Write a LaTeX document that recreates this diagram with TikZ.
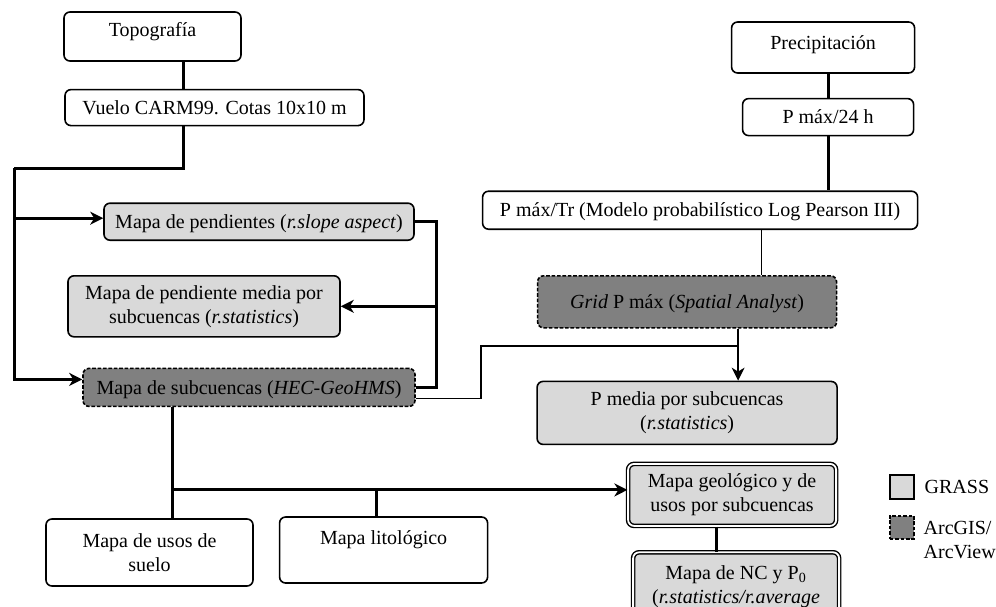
\documentclass[tikz,border=0pt]{standalone}
\usepackage{fontspec}
\setmainfont{Liberation Serif}
\usetikzlibrary{positioning,arrows.meta}
\tikzset{
    box/.style = {
        draw,
        rounded corners=3pt,
        line width=0.8pt,
        align=center,
        inner sep=2pt,
        },
    one line/.style = {
        text height=6.6pt,
        text depth=0pt,
        },
    grass/.style = {
        fill = gray!30,
        },
    arcgis/.style = {
        fill = gray,
        dash pattern=on 1.8pt off 0.9pt,
        },
    joined/.style = {
        fill = gray!30,
        double,
        double distance=0.9pt,
        line width=0.7pt,
        },
    link/.style = {
        line width=1.5pt,
        },
    thin link/.style = {
        line width=0.65pt,
        },
    legend/.style = {
        draw,
        minimum width=12pt,
        minimum height=12pt,
        inner sep=0pt,
        line width=0.9pt,
        },
    >={Stealth[length=6.5pt,width=6.5pt,inset=2pt]},
}

\begin{document}
\begin{tikzpicture}
    \useasboundingbox (0,0) rectangle (498pt,-303pt);

    \node[box, one line, text depth=6.5pt, minimum width=88.5pt, minimum height=24.5pt] (topo) at (76.25pt,-18.25pt) {Topografía};
    \node[box, one line, minimum width=149.5pt, minimum height=18pt, below=13.5pt of topo, xshift=31pt] (vuelo) {Vuelo CARM99. Cotas 10x10 m};
    \node[box, grass, one line, minimum width=155pt, minimum height=18.5pt, below=38pt of vuelo, xshift=22.25pt] (pend) {Mapa de pendientes (\textit{r.slope aspect})};
    \node[box, grass, minimum width=136pt, minimum height=30.5pt, below=17pt of pend, xshift=-27.5pt] (media) {Mapa de pendiente media por\\subcuencas (\textit{r.statistics})};
    \node[box, arcgis, one line, minimum width=166pt, minimum height=19pt, below=15pt of media, xshift=22.5pt] (subc) {Mapa de subcuencas (\textit{HEC-GeoHMS})};
    \node[box, minimum width=103.5pt, minimum height=33.5pt, below=55.5pt of subc, xshift=-49.75pt] (usos) {Mapa de usos de\\suelo};
    \node[box, one line, text depth=12pt, minimum width=104pt, minimum height=33pt, right=12.5pt of usos, yshift=1.25pt] (lito) {Mapa litológico};

    \node[box, one line, text depth=4.5pt, minimum width=91.5pt, minimum height=25.5pt, right=244.5pt of topo, yshift=-5.5pt] (precip) {Precipitación};
    \node[box, one line, minimum width=85.5pt, minimum height=18.5pt, below=12pt of precip, xshift=2.5pt] (pmax24) {P máx/24 h};
    \node[box, one line, minimum width=217.5pt, minimum height=19pt, below=27pt of pmax24, xshift=-64pt] (pmaxtr) {P máx/Tr (Modelo probabilístico Log Pearson III)};
    \node[box, arcgis, one line, minimum width=149.5pt, minimum height=26pt, below=22.5pt of pmaxtr, xshift=-6.5pt] (grid) {\textit{Grid} P máx (\textit{Spatial Analyst})};
    \node[box, grass, minimum width=150pt, minimum height=31.5pt, below=26pt of grid] (pmedia) {P media por subcuencas\\(\textit{r.statistics})};
    \node[box, joined, minimum width=104pt, minimum height=31pt, below=9pt of pmedia, xshift=22.5pt] (geol) {Mapa geológico y de\\usos por subcuencas};
    \node[box, joined, minimum width=103pt, minimum height=34.5pt, below=12.5pt of geol, xshift=2pt] (nc) {Mapa de NC y P\textsubscript{0}\\(\textit{r.statistics/r.average}};

    \node[legend, grass, right=26pt of geol, yshift=4pt] (grassbox) {};
    \node[one line, right=1.5pt of grassbox] (grasstext) {GRASS};
    \node[legend, arcgis, minimum height=11.5pt, below=7.5pt of grassbox] (arcbox) {};
    \node[align=left, right=1pt of arcbox, yshift=-6.5pt] (arctext) {ArcGIS/\\ArcView};

    \coordinate (tv) at ([xshift=15.25pt]topo.south);
    \coordinate (spine) at (7pt,-84pt);
    \coordinate (rs) at ([xshift=11pt]pend.east);
    \coordinate (jog) at (240.5pt,-173pt);
    \coordinate (pm) at ([xshift=25.5pt]pmedia.north);
    \coordinate (tg) at ([xshift=30.75pt]pmaxtr.south);
    \coordinate (su) at ([xshift=-38.5pt]subc.south);
    \coordinate (gw) at ([yshift=2.5pt]geol.west);
    \coordinate (lt) at ([xshift=-3.5pt]lito.north);
    \coordinate (gn) at ([xshift=-8pt]geol.south);

    \draw[link] (tv) -- (tv |- vuelo.north);
    \draw[link] (tv |- vuelo.south) |- (spine);
    \draw[link, ->] (spine) |- ([yshift=1.75pt]pend.west);
    \draw[link, ->] (spine) |- ([yshift=4pt]subc.west);
    \draw[link] (pend.east) -- (rs) |- (subc.east);
    \draw[link, ->] (rs |- media.east) -- (media.east);
    \draw[thin link] ([yshift=-5.5pt]subc.east) -| (jog) -- (jog -| pm);
    \draw[thin link, ->] (pm |- grid.south) -- (pm);
    \draw[thin link] (tg) -- (tg |- grid.north);
    \draw[link] (pmax24.north |- precip.south) -- (pmax24.north);
    \draw[link] (pmax24.south) -- (pmax24.south |- pmaxtr.north);
    \draw[link] (su) -- (su |- usos.north);
    \draw[link, ->] (su |- gw) -- (gw);
    \draw[link] (lt) -- (lt |- gw);
    \draw[link] (gn) -- (gn |- nc.north);
\end{tikzpicture}
\end{document}
